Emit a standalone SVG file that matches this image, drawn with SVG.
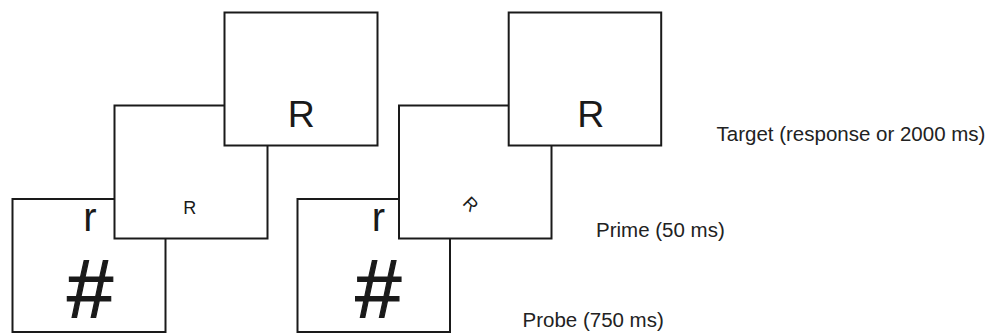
<svg xmlns="http://www.w3.org/2000/svg" width="991" height="334" viewBox="0 0 991 334">
  <style>
    .box { fill: #ffffff; stroke: #1a1a1a; stroke-width: 2; }
    .t { font-family: "Liberation Sans", Arial, sans-serif; fill: #1a1a1a; text-anchor: middle; }
    .hash { stroke: #1a1a1a; stroke-width: 1.2; }
    .lbl { font-family: "Liberation Sans", Arial, sans-serif; fill: #222222; font-size: 20.5px; }
  </style>
  <rect width="991" height="334" fill="#ffffff"/>

  <!-- Left sequence -->
  <g id="left-probe">
    <rect class="box" x="12.5" y="199" width="153" height="133"/>
    <text class="t" x="90" y="230.5" font-size="40">r</text>
    <text class="t hash" x="90" y="318" font-size="83">#</text>
  </g>
  <g id="left-prime">
    <rect class="box" x="114.5" y="105.5" width="153" height="133"/>
    <text class="t" x="189.7" y="214.3" font-size="18">R</text>
  </g>
  <g id="left-target">
    <rect class="box" x="224.5" y="12.5" width="153" height="133"/>
    <text class="t" x="301.3" y="126.8" font-size="37.5">R</text>
  </g>

  <!-- Right sequence -->
  <g id="right-probe">
    <rect class="box" x="297.5" y="199" width="152.5" height="133"/>
    <text class="t" x="378.3" y="230.5" font-size="40">r</text>
    <text class="t hash" x="378.3" y="318" font-size="83">#</text>
  </g>
  <g id="right-prime">
    <rect class="box" x="399" y="105.5" width="152.5" height="133"/>
    <text class="t" x="0" y="6.5" font-size="18" transform="translate(471 204) rotate(45)">R</text>
  </g>
  <g id="right-target">
    <rect class="box" x="508.7" y="12.5" width="152.5" height="133"/>
    <text class="t" x="590.8" y="126.8" font-size="37.5">R</text>
  </g>

  <!-- Labels -->
  <g id="label-target">
    <text class="lbl" x="716.5" y="140.7">Target (response or 2000 ms)</text>
  </g>
  <g id="label-prime">
    <text class="lbl" x="596" y="237">Prime (50 ms)</text>
  </g>
  <g id="label-probe">
    <text class="lbl" x="522.5" y="326.5">Probe (750 ms)</text>
  </g>
</svg>
